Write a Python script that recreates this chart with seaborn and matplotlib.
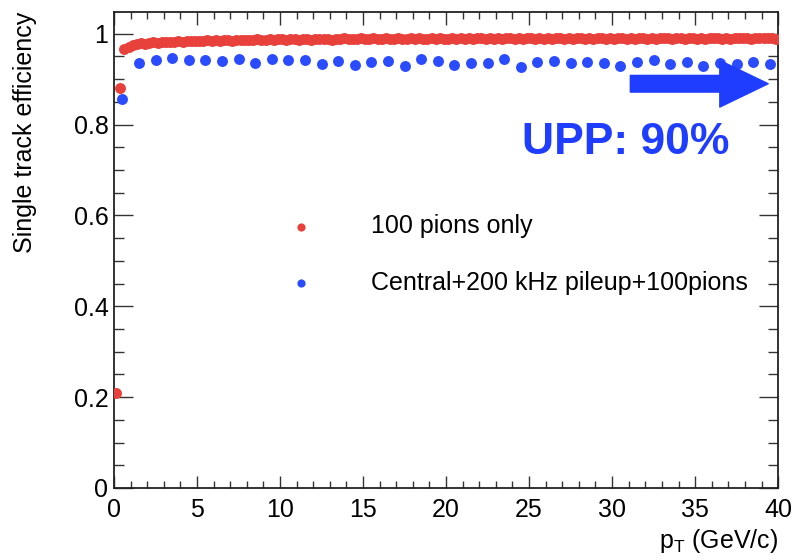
import numpy as np
import pandas as pd
import seaborn as sns
import matplotlib.pyplot as plt
from matplotlib.ticker import MultipleLocator

# efficiency vs pT
red_label = "100 pions only"
blue_label = "Central+200 kHz pileup+100pions"

red_pt = np.arange(0.125, 40, 0.25)
red_eff = [
    0.21, 0.88, 0.966, 0.972,
    0.975, 0.977, 0.979, 0.978,
    0.980, 0.981, 0.980, 0.982,
    0.982, 0.983, 0.982, 0.984,
    0.983, 0.984, 0.985, 0.984,
    0.985, 0.984, 0.986, 0.985,
    0.986, 0.985, 0.986, 0.987,
    0.985, 0.987, 0.986, 0.987,
    0.987, 0.986, 0.988, 0.987,
    0.986, 0.988, 0.987, 0.988,
    0.988, 0.987, 0.988, 0.989,
    0.987, 0.989, 0.988, 0.987,
    0.989, 0.988, 0.989, 0.988,
    0.987, 0.989, 0.988, 0.990,
    0.988, 0.989, 0.988, 0.990,
    0.989, 0.988, 0.990, 0.989,
    0.988, 0.990, 0.989, 0.988,
    0.990, 0.989, 0.988, 0.990,
    0.989, 0.991, 0.989, 0.988,
    0.990, 0.989, 0.990, 0.988,
    0.989, 0.990, 0.989, 0.991,
    0.988, 0.990, 0.989, 0.990,
    0.991, 0.989, 0.990, 0.988,
    0.990, 0.989, 0.991, 0.990,
    0.989, 0.990, 0.988, 0.990,
    0.991, 0.989, 0.990, 0.989,
    0.990, 0.988, 0.990, 0.991,
    0.989, 0.990, 0.989, 0.991,
    0.990, 0.989, 0.990, 0.988,
    0.990, 0.991, 0.989, 0.990,
    0.989, 0.990, 0.991, 0.989,
    0.990, 0.989, 0.990, 0.991,
    0.989, 0.990, 0.988, 0.990,
    0.991, 0.990, 0.989, 0.990,
    0.990, 0.989, 0.991, 0.990,
    0.989, 0.990, 0.989, 0.991,
    0.990, 0.991, 0.989, 0.990,
    0.989, 0.990, 0.991, 0.990,
    0.990, 0.989, 0.990, 0.991,
    0.990, 0.991, 0.990, 0.989,
]

blue_pt = np.arange(0.5, 40, 1.0)
blue_eff = [
    0.857, 0.936, 0.942, 0.947, 0.942, 0.942, 0.939, 0.944, 0.936, 0.944,
    0.942, 0.942, 0.933, 0.940, 0.931, 0.938, 0.941, 0.930, 0.944, 0.941,
    0.932, 0.935, 0.935, 0.944, 0.927, 0.938, 0.941, 0.935, 0.937, 0.936,
    0.930, 0.937, 0.942, 0.933, 0.938, 0.930, 0.935, 0.933, 0.938, 0.933,
]

red_df = pd.DataFrame({"pt": red_pt, "eff": red_eff})
blue_df = pd.DataFrame({"pt": blue_pt, "eff": blue_eff})

sns.set_style("ticks")
plt.rcParams["font.family"] = ["Liberation Sans", "DejaVu Sans"]
plt.rcParams["mathtext.default"] = "regular"
plt.rcParams["text.color"] = "black"
plt.rcParams["axes.labelcolor"] = "black"
plt.rcParams["xtick.color"] = "black"
plt.rcParams["ytick.color"] = "black"

RED = "#e8413c"
BLUE = "#2b4bff"
UPP_BLUE = "#1f3dff"

fig = plt.figure(figsize=(7.94, 5.6), dpi=100)
ax = fig.add_axes([0.1436, 0.1286, 0.8364, 0.85])

sns.scatterplot(data=red_df, x="pt", y="eff", ax=ax, color=RED, s=62,
                linewidth=0, label=red_label, zorder=3)
sns.scatterplot(data=blue_df, x="pt", y="eff", ax=ax, color=BLUE, s=62,
                linewidth=0, label=blue_label, zorder=3)

ax.set_xlim(0, 40)
ax.set_ylim(0, 1.048)
ax.xaxis.set_major_locator(MultipleLocator(5))
ax.xaxis.set_minor_locator(MultipleLocator(1))
ax.yaxis.set_minor_locator(MultipleLocator(0.05))
ax.set_yticks([0, 0.2, 0.4, 0.6, 0.8, 1.0])
ax.set_yticklabels(["0", "0.2", "0.4", "0.6", "0.8", "1"])

ax.tick_params(axis="both", which="both", direction="in", top=True, right=True,
               width=1.0, color="#333333")
ax.tick_params(axis="x", which="major", length=9, pad=7, labelsize=18)
ax.tick_params(axis="x", which="minor", length=5)
ax.tick_params(axis="y", which="major", length=14, pad=4, labelsize=18)
ax.tick_params(axis="y", which="minor", length=7)
for sp in ax.spines.values():
    sp.set_linewidth(1.3)
    sp.set_color("#222222")

ax.set_xlabel("$p_{T}$ (GeV/c)", fontsize=18, loc="right", labelpad=4)
ax.set_ylabel("Single track efficiency", fontsize=18, loc="top", labelpad=26)

leg = ax.legend(loc="upper left", bbox_to_anchor=(0.244, 0.575), frameon=False,
                fontsize=18, markerscale=0.75, handlelength=2.0,
                handletextpad=1.8, labelspacing=1.3, borderpad=0,
                borderaxespad=0)

ax.annotate("", xy=(39.4, 0.89), xytext=(31.1, 0.89),
            arrowprops=dict(arrowstyle="simple,head_length=2.9,head_width=2.8,tail_width=1.0",
                            color=UPP_BLUE, shrinkA=0, shrinkB=0, mutation_scale=12))
ax.text(0.77, 0.725, "UPP: 90%", transform=ax.transAxes, fontsize=32,
        fontweight="bold", color=UPP_BLUE, ha="center", va="center")

fig.savefig("out.png", dpi=100)
